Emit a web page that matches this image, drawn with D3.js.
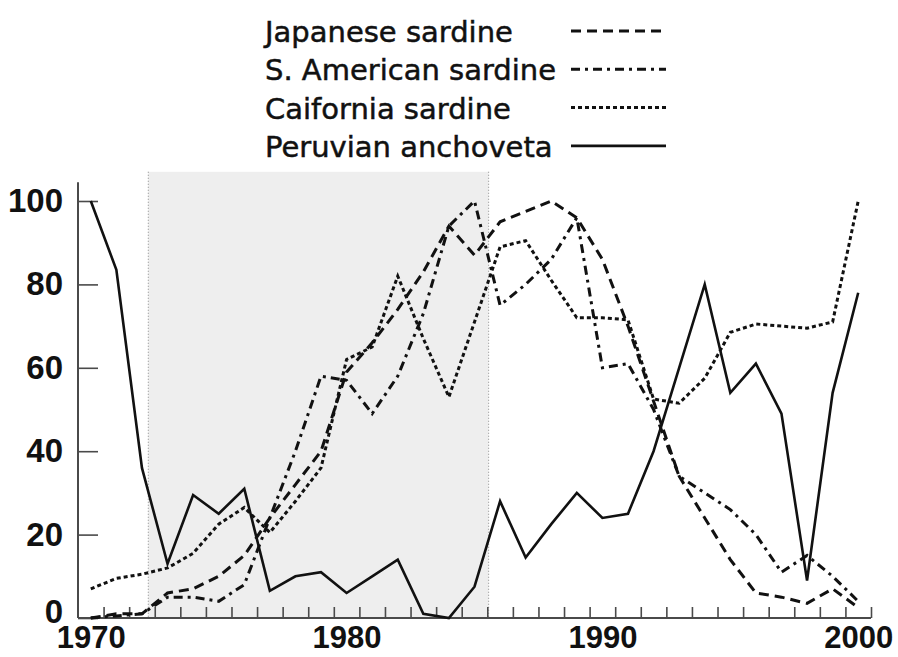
<!DOCTYPE html>
<html>
<head>
<meta charset="utf-8">
<script src="https://cdn.jsdelivr.net/npm/d3@7"></script>
<style>
    body { margin: 0; background: #ffffff; }
    .axis-label { font-family: "Liberation Sans", Arial, sans-serif; font-weight: bold; font-size: 33px; fill: #111; }
    .x-label { font-size: 31px; }
    .legend-label { font-family: "DejaVu Sans", sans-serif; font-size: 29px; fill: #111; stroke: #111; stroke-width: 0.5px; }
</style>
</head>
<body>
<svg id="chart" width="898" height="657"></svg>
<script>
/*****************************************************************************
 *  Data (relative abundance, % of series maximum)
 */
var YEARS = [1970, 1971, 1972, 1973, 1974, 1975, 1976, 1977, 1978, 1979,
             1980, 1981, 1982, 1983, 1984, 1985, 1986, 1987, 1988, 1989,
             1990, 1991, 1992, 1993, 1994, 1995, 1996, 1997, 1998, 1999, 2000];

var JAPANESE_SARDINE = [0, 1, 1, 6, 7, 10, 15, 24, 32, 40,
                        59, 66, 74, 83, 94, 87, 95, 97.5, 100, 96,
                        86, 70, 52, 34, 24, 14, 6, 5, 3.5, 7, 2.5];

var S_AMERICAN_SARDINE = [0, 0.5, 1, 5, 5, 4, 8, 24, 40, 58,
                          57, 49, 58, 73, 94, 100, 75, 80, 86, 96,
                          60, 61, 50, 34, 30, 26, 20, 11, 15, 10, 4];

var CALIFORNIA_SARDINE = [7, 9.5, 10.5, 12, 15.5, 22.5, 26.5, 20.5, 28, 36,
                          62, 65, 82, 67, 53, 71, 89, 90.5, 81, 72,
                          72, 71.5, 52.5, 51.5, 57.5, 68.5, 70.5, 70, 69.5, 71, 100];

var PERUVIAN_ANCHOVETA = [100, 83.5, 36, 13, 29.5, 25, 31, 6.5, 10, 11,
                          6, 10, 14, 1, 0, 7.5, 28, 14.5, 22.5, 30,
                          24, 25, 40, 60, 80, 54, 61, 49, 9, 54, 78];

var SERIES_NAMES = ["Japanese sardine", "S. American sardine", "Caifornia sardine", "Peruvian anchoveta"];
var Y_TICKS = [0, 20, 40, 60, 80, 100];
var X_LABELS = [1970, 1980, 1990, 2000];
var SHADED_PERIOD = [1972.25, 1985.55];

/*****************************************************************************
 *  Layout + style constants
 */
var X_LEFT = 78;
var X_RIGHT = 871;
var Y_BOTTOM = 618;
var Y_TOP_100 = 201;
var LINE_COLOR = "#111111";
var AXIS_COLOR = "#4a4a4a";
var SHADE_COLOR = "#eeeeee";
var DASH_STYLES = ["10,6", "9,5,3,5", "4,3", null];
var LINE_WIDTHS = [3, 3, 3, 2.6];

var svg = d3.select("#chart");

var xScale = d3.scaleLinear().domain([1969.5, 2000.5]).range([X_LEFT, X_RIGHT]);
var yScale = d3.scaleLinear().domain([0, 100]).range([Y_BOTTOM, Y_TOP_100]);

// Shaded regime period
svg.append("rect")
    .attr("x", xScale(SHADED_PERIOD[0]))
    .attr("y", yScale(107))
    .attr("width", xScale(SHADED_PERIOD[1]) - xScale(SHADED_PERIOD[0]))
    .attr("height", Y_BOTTOM - yScale(107))
    .attr("fill", SHADE_COLOR);

SHADED_PERIOD.forEach(function (p) {
    svg.append("line")
        .attr("x1", xScale(p)).attr("x2", xScale(p))
        .attr("y1", yScale(107)).attr("y2", Y_BOTTOM)
        .attr("stroke", "#9a9a9a")
        .attr("stroke-width", 1.2)
        .attr("stroke-dasharray", "1,2");
});

// Y axis
var yAxis = d3.axisLeft(yScale)
    .tickValues(Y_TICKS)
    .tickSize(-20)
    .tickPadding(15);

var yAxisG = svg.append("g")
    .attr("transform", "translate(" + X_LEFT + ",0)")
    .call(yAxis);
yAxisG.select(".domain").remove();
yAxisG.selectAll(".tick line").attr("stroke", AXIS_COLOR).attr("stroke-width", 1.6);
yAxisG.selectAll(".tick text").attr("class", "axis-label").attr("font-size", null).attr("font-family", null);
yAxisG.selectAll(".tick").filter(function (d) { return d === 0; }).select("text").attr("dy", "0.15em");

svg.append("line")
    .attr("x1", X_LEFT).attr("x2", X_LEFT)
    .attr("y1", yScale(104.5)).attr("y2", Y_BOTTOM)
    .attr("stroke", AXIS_COLOR)
    .attr("stroke-width", 2);

// X axis: minor ticks between years, labels on decades
var halfYears = YEARS.map(function (y) { return y + 0.5; });
var xTickAxis = d3.axisBottom(xScale)
    .tickValues(halfYears)
    .tickSize(-11)
    .tickFormat("");

var xTickG = svg.append("g")
    .attr("transform", "translate(0," + Y_BOTTOM + ")")
    .call(xTickAxis);
xTickG.select(".domain").remove();
xTickG.selectAll(".tick line").attr("stroke", AXIS_COLOR).attr("stroke-width", 1.6);

svg.append("line")
    .attr("x1", X_LEFT).attr("x2", X_RIGHT)
    .attr("y1", Y_BOTTOM).attr("y2", Y_BOTTOM)
    .attr("stroke", AXIS_COLOR)
    .attr("stroke-width", 2);

var xLabelAxis = d3.axisBottom(xScale)
    .tickValues(X_LABELS)
    .tickSize(0)
    .tickPadding(8)
    .tickFormat(d3.format("d"));

var xLabelG = svg.append("g")
    .attr("transform", "translate(0," + Y_BOTTOM + ")")
    .call(xLabelAxis);
xLabelG.select(".domain").remove();
xLabelG.selectAll(".tick text").attr("class", "axis-label x-label").attr("font-size", null).attr("font-family", null);

// Series lines
var allSeries = [JAPANESE_SARDINE, S_AMERICAN_SARDINE, CALIFORNIA_SARDINE, PERUVIAN_ANCHOVETA];

var lineGenerator = d3.line()
    .x(function (d, i) { return xScale(YEARS[i]); })
    .y(function (d) { return yScale(d); });

for (var s = 0; s < allSeries.length; s++) {
    svg.append("path")
        .attr("class", "series-line")
        .attr("d", lineGenerator(allSeries[s]))
        .attr("fill", "none")
        .attr("stroke", LINE_COLOR)
        .attr("stroke-width", LINE_WIDTHS[s])
        .attr("stroke-linejoin", "miter")
        .attr("stroke-dasharray", DASH_STYLES[s]);
}

// Legend
var LEGEND_X = 265;
var LEGEND_Y = 42;
var LEGEND_ROW = 38.3;
var LEGEND_LINE_X1 = 571;
var LEGEND_LINE_X2 = 666;

for (var k = 0; k < SERIES_NAMES.length; k++) {
    var baseY = LEGEND_Y + k * LEGEND_ROW;
    svg.append("text")
        .attr("class", "legend-label")
        .attr("x", LEGEND_X)
        .attr("y", baseY)
        .text(SERIES_NAMES[k]);
    svg.append("line")
        .attr("x1", LEGEND_LINE_X1)
        .attr("x2", LEGEND_LINE_X2)
        .attr("y1", baseY - 11)
        .attr("y2", baseY - 11)
        .attr("stroke", LINE_COLOR)
        .attr("stroke-width", LINE_WIDTHS[k])
        .attr("stroke-dasharray", DASH_STYLES[k]);
}
</script>
</body>
</html>
